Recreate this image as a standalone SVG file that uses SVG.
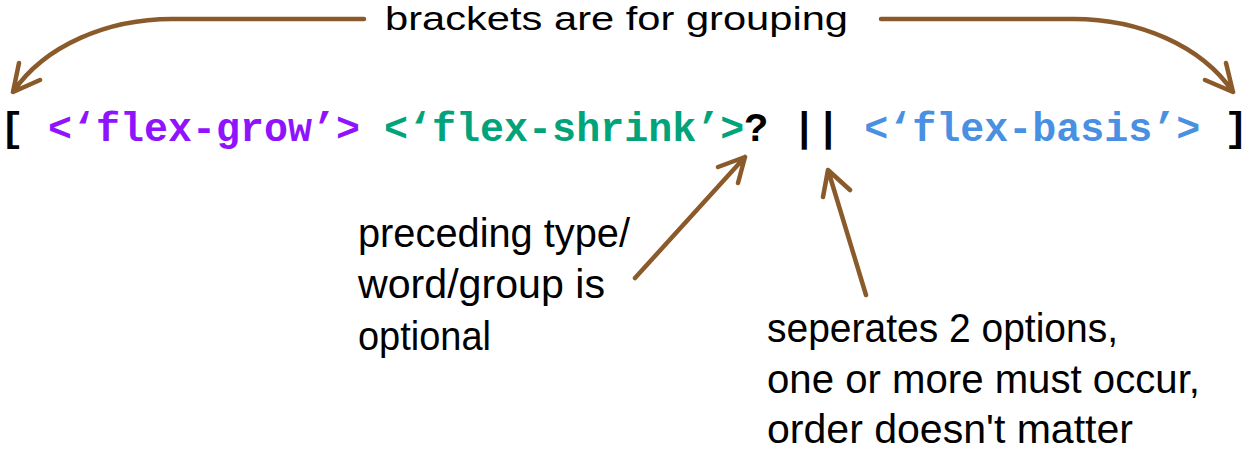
<svg xmlns="http://www.w3.org/2000/svg" width="1246" height="453" viewBox="0 0 1246 453">
<style>
.code{font-family:"Liberation Mono","DejaVu Sans Mono",monospace;font-size:40px;font-weight:bold;}
.hand{font-family:"Liberation Sans","DejaVu Sans",sans-serif;fill:#000;}
.arr{fill:none;stroke:#8b5a2b;stroke-width:4.5;stroke-linecap:round;stroke-linejoin:round;}
</style>
<rect width="1246" height="453" fill="#fff"/>
<g id="connectors">
<path class="arr" d="M364,19 L172,19 C108,19 45,45 13,92 M19,63 L13,92 L40,80"/>
<path class="arr" d="M881,19 L1074,19 C1138,19 1201,45 1233,92 M1226,63 L1233,92 L1205,80"/>
<path class="arr" d="M635,278 L745,157 M718,167 L745,157 L738,183"/>
<path class="arr" d="M866,295 L828,170 M823,197 L828,170 L850,190"/>
</g>
<g id="syntax">
<text class="code" x="0" y="141" xml:space="preserve"><tspan fill="#000">[ </tspan><tspan fill="#9013fe">&lt;‘flex-grow’&gt;</tspan><tspan fill="#000"> </tspan><tspan fill="#00a37a">&lt;‘flex-shrink’&gt;</tspan><tspan fill="#000">? || </tspan><tspan fill="#4a90e2">&lt;‘flex-basis’&gt;</tspan><tspan fill="#000"> ]</tspan></text>
</g>
<g id="label-brackets">
<text class="hand" x="385" y="30" font-size="34" textLength="463" lengthAdjust="spacingAndGlyphs">brackets are for grouping</text>
</g>
<g id="label-optional">
<text class="hand" x="358" y="247" font-size="40" textLength="272" lengthAdjust="spacingAndGlyphs">preceding type/</text>
<text class="hand" x="358" y="298" font-size="40" textLength="247" lengthAdjust="spacingAndGlyphs">word/group is</text>
<text class="hand" x="358" y="350" font-size="40" textLength="133" lengthAdjust="spacingAndGlyphs">optional</text>
</g>
<g id="label-or">
<text class="hand" x="767" y="342" font-size="40" textLength="351" lengthAdjust="spacingAndGlyphs">seperates 2 options,</text>
<text class="hand" x="767" y="393" font-size="40" textLength="433" lengthAdjust="spacingAndGlyphs">one or more must occur,</text>
<text class="hand" x="767" y="443" font-size="40" textLength="366" lengthAdjust="spacingAndGlyphs">order doesn't matter</text>
</g>
</svg>
